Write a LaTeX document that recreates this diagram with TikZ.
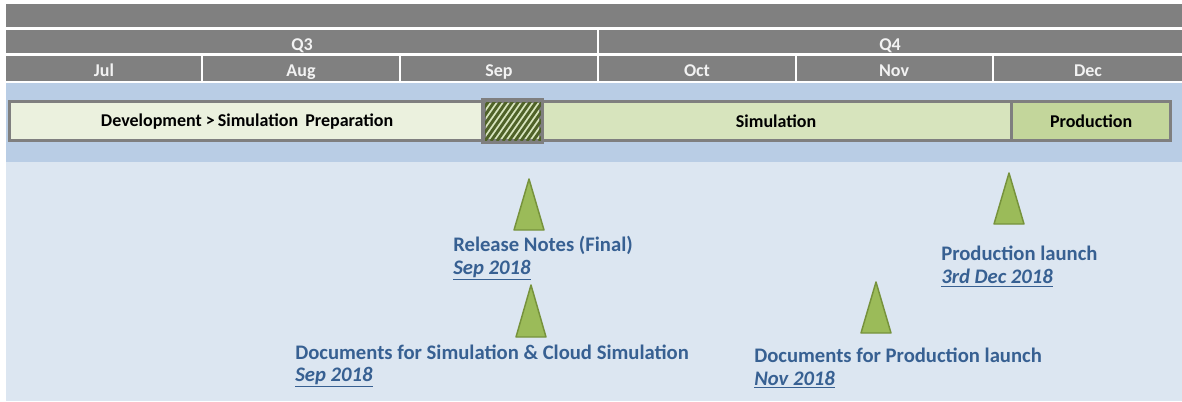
\documentclass[tikz,border=0pt]{standalone}
\usepackage{fontspec}
\setmainfont{Carlito}
\definecolor{hdrgray}{HTML}{808080}
\definecolor{hdrtext}{HTML}{F2F2F2}
\definecolor{bandtop}{HTML}{B9CDE5}
\definecolor{bandlow}{HTML}{DCE6F1}
\definecolor{devfill}{HTML}{EBF1DE}
\definecolor{simfill}{HTML}{D7E4BD}
\definecolor{prodfill}{HTML}{C3D69B}
\definecolor{phaseline}{HTML}{7F7F7F}
\definecolor{hatchdark}{HTML}{4F6228}
\definecolor{msfill}{HTML}{9BBB59}
\definecolor{msline}{HTML}{76923C}
\definecolor{mstext}{HTML}{376092}
\tikzset{
  hdrlabel/.style={text=hdrtext, font=\fontsize{13.5}{15}\selectfont\bfseries, inner sep=0pt, anchor=base},
  phase/.style={draw=phaseline, line width=2.4pt, anchor=north west, minimum height=29.25pt,
    inner sep=0pt, font=\fontsize{13.5}{15}\selectfont\bfseries, text=black},
  milestone/.style={fill=msfill, draw=msline, line width=1.1pt, line join=round},
  mslabel/.style={anchor=west, inner sep=0pt, text=mstext, font=\fontsize{15.5}{18}\selectfont\bfseries},
  msdate/.style={anchor=west, inner sep=0pt, text=mstext, font=\fontsize{15.5}{18}\selectfont\bfseries\itshape},
}
\begin{document}
\begin{tikzpicture}[x=0.75pt, y=-0.75pt]
\useasboundingbox (0,0) rectangle (1182,401);
\fill[white] (0,0) rectangle (1182,401);

% header rows
\fill[hdrgray] (6,4) rectangle (1182,27);
\fill[hdrgray] (6,30) rectangle (1182,53);
\fill[hdrgray] (6,56) rectangle (1182,81);
\foreach \xd in {598} \draw[white, line width=1.8pt] (\xd,30) -- (\xd,53);
\foreach \xd in {202,400,598,796,993} \draw[white, line width=1.8pt] (\xd,56) -- (\xd,81);
\node[hdrlabel] (q3) at (302,50) {Q3};
\node[hdrlabel] (q4) at (890,50) {Q4};
\node[hdrlabel] (jul) at (104,76) {Jul};
\node[hdrlabel] (aug) at (301,76) {Aug};
\node[hdrlabel] (sep) at (499,76) {Sep};
\node[hdrlabel] (oct) at (697,76) {Oct};
\node[hdrlabel] (nov) at (894,76) {Nov};
\node[hdrlabel] (dec) at (1088,76) {Dec};

% background bands
\fill[bandtop] (6,83) rectangle (1182,162);
\fill[bandlow] (6,162) rectangle (1182,401);

% phase bar
\node[phase, fill=devfill, minimum width=356.25pt] (dev) at (8,100) {Development >\,Simulation\, Preparation};
\node[phase, fill=simfill, minimum width=42pt] (gap) at (483,100) {};
\node[phase, fill=simfill, minimum width=353.25pt] (sim) at (539,100) {Simulation};
\node[phase, fill=prodfill, minimum width=119.25pt] (prod) at (1010,100) {Production};
\begin{scope}
  \clip (gap.south west) rectangle (gap.north east);
  \foreach \i in {-40,-34,...,64}
    \draw[hatchdark, line width=2.2pt] (483+\i,141) -- ++(30,-43);
\end{scope}
\draw[phaseline, line width=2.4pt] (gap.south west) rectangle (gap.north east);

% milestones
\coordinate (m1) at (529,179);
\coordinate (m2) at (531,285);
\coordinate (m3) at (1009,173);
\coordinate (m4) at (876,282);
\draw[milestone] (m1) -- ++(15,51) -- ++(-30,0) -- cycle;
\draw[milestone] (m2) -- ++(15,52) -- ++(-30,0) -- cycle;
\draw[milestone] (m3) -- ++(15,51) -- ++(-30,0) -- cycle;
\draw[milestone] (m4) -- ++(15,51) -- ++(-30,0) -- cycle;

\node[mslabel] (rn) at (453,245) {Release Notes (Final)};
\node[msdate] (rnd) at (453,270) {\underline{Sep 2018}};
\node[mslabel] (ds) at (295,352) {Documents for Simulation \& Cloud Simulation};
\node[msdate] (dsd) at (295,377) {\underline{Sep 2018}};
\node[mslabel] (pl) at (941,253) {Production launch};
\node[msdate] (pld) at (941,278) {\underline{3rd Dec 2018}};
\node[mslabel] (dp) at (754,355) {Documents for Production launch};
\node[msdate] (dpd) at (754,380) {\underline{Nov 2018}};
\end{tikzpicture}
\end{document}
